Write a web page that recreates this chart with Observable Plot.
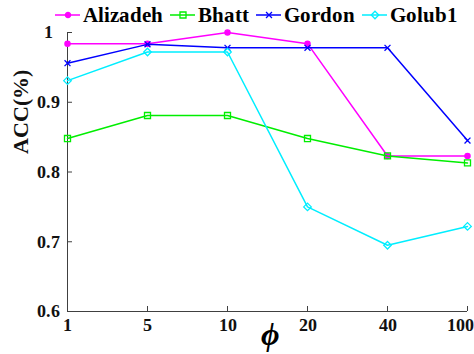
<!DOCTYPE html>
<html><head><meta charset="utf-8">
<script src="https://cdn.jsdelivr.net/npm/d3@7"></script>
<script src="https://cdn.jsdelivr.net/npm/@observablehq/plot@0.6"></script>
<style>
@font-face{font-family:ChartSerif;font-weight:700;font-style:normal;src:local("Liberation Serif Bold"),local("LiberationSerif-Bold"),local("DejaVu Serif Bold"),local("DejaVuSerif-Bold");}
@font-face{font-family:ChartSerif;font-weight:700;font-style:italic;src:local("Liberation Serif Bold Italic"),local("LiberationSerif-BoldItalic"),local("DejaVu Serif Bold Italic"),local("DejaVuSerif-BoldItalic");}
body{margin:0;background:#fff;font-family:ChartSerif,'Liberation Serif',serif;}
#wrap{position:relative;width:474px;height:354px;}
#legend{position:absolute;left:55px;top:2px;display:flex;align-items:center;font-weight:bold;font-size:21px;line-height:26px;color:#000;font-family:ChartSerif,'Liberation Serif',serif;}
.item{display:flex;align-items:center;margin-right:7px;}
.item svg{margin-right:3px;}
#wrap svg text{font-family:ChartSerif,'Liberation Serif',serif;}
</style></head><body><div id="wrap"><div id="legend"></div></div>
<script>
const phi = ["1","5","10","20","40","100"];
const seriesNames = ["Alizadeh","Bhatt","Gordon","Golub1"];
const alizadeh = [0.984,0.984,1.000,0.984,0.823,0.823];
const bhatt    = [0.848,0.881,0.881,0.848,0.823,0.813];
const gordon   = [0.956,0.983,0.978,0.978,0.978,0.845];
const golub1   = [0.931,0.972,0.972,0.750,0.695,0.722];
const yTicks = [0.6,0.7,0.8,0.9,1];

const valuesList = [alizadeh,bhatt,gordon,golub1];
const styles = [
  {color:"#ff00ff", symbol:"circle", filled:true, r:2.6},
  {color:"#00ee00", symbol:"square", filled:false, r:3.4},
  {color:"#0000ff", symbol:"times", filled:false, r:2.8},
  {color:"#00eeff", symbol:"diamond2", filled:false, r:3.4}
];
const d3sym = {circle:d3.symbolCircle, square:d3.symbolSquare, times:d3.symbolTimes, diamond2:d3.symbolDiamond2};

const series = seriesNames.map((name,k)=>({
  name, style:styles[k],
  rows: phi.map((p,i)=>({phi:p, value:valuesList[k][i]}))
}));

const axisColor = "#404040";
const serif = "ChartSerif, Liberation Serif, serif";
const fmt = d => d === 1 ? "1" : d.toFixed(1);
const txt = {fontFamily:serif, fontWeight:"bold", fill:"#111"};

const marks = [
  Plot.ruleX([phi[0]], {stroke:axisColor}),
  Plot.ruleY([0.6], {stroke:axisColor}),
  Plot.axisY(yTicks, {tickSize:-5, tickFormat:()=>"", stroke:axisColor, label:null}),
  Plot.axisX(phi, {tickSize:-5, tickFormat:()=>"", stroke:axisColor, label:null}),
  Plot.text(yTicks, {...txt, y:d=>d, text:fmt, frameAnchor:"left", dx:-19, textAnchor:"middle", fontSize:18}),
  Plot.text(phi.slice(0,-1), {...txt, x:d=>d, text:d=>d, frameAnchor:"bottom", dy:14, lineAnchor:"middle", fontSize:18}),
  Plot.text(phi.slice(-1), {...txt, x:d=>d, text:d=>d, frameAnchor:"bottom", dy:14, dx:6, textAnchor:"end", lineAnchor:"middle", fontSize:18}),
  Plot.text(["ACC(%)"], {...txt, frameAnchor:"left", dx:-47, dy:-18, rotate:-90, fontSize:22}),
  Plot.text(["\u03D5"], {...txt, fill:"#000", frameAnchor:"bottom", dy:33, dx:3, fontSize:32, fontStyle:"italic"})
];
for (const s of series) {
  marks.push(Plot.line(s.rows, {x:"phi", y:"value", stroke:s.style.color, strokeWidth:1.5}));
  marks.push(Plot.dot(s.rows, {x:"phi", y:"value", symbol:s.style.symbol, r:s.style.r,
    stroke:s.style.color, strokeWidth:1.3, fill: s.style.filled ? s.style.color : "none"}));
}

const chart = Plot.plot({
  width:474, height:354,
  marginLeft:67, marginRight:7, marginTop:32, marginBottom:43,
  x:{type:"point", domain:phi, padding:0, axis:null},
  y:{domain:[0.6,1], axis:null},
  style:{fontFamily:serif, background:"#fff", overflow:"visible"},
  marks
});
document.getElementById("wrap").appendChild(chart);

const legend = document.getElementById("legend");
for (const s of series) {
  const item = document.createElement("div");
  item.className = "item";
  const path = d3.symbol().type(d3sym[s.style.symbol]).size(Math.PI*s.style.r*s.style.r)();
  item.innerHTML = `<svg width="25" height="16"><line x1="0" x2="25" y1="8" y2="8" stroke="${s.style.color}" stroke-width="1.5"/>`+
    `<path d="${path}" transform="translate(13,8)" stroke="${s.style.color}" stroke-width="1.3" fill="${s.style.filled ? s.style.color : "none"}"/></svg>`;
  const span = document.createElement("span");
  span.textContent = s.name;
  item.appendChild(span);
  legend.appendChild(item);
}
legend.style.zIndex = 2;
</script></body></html>
